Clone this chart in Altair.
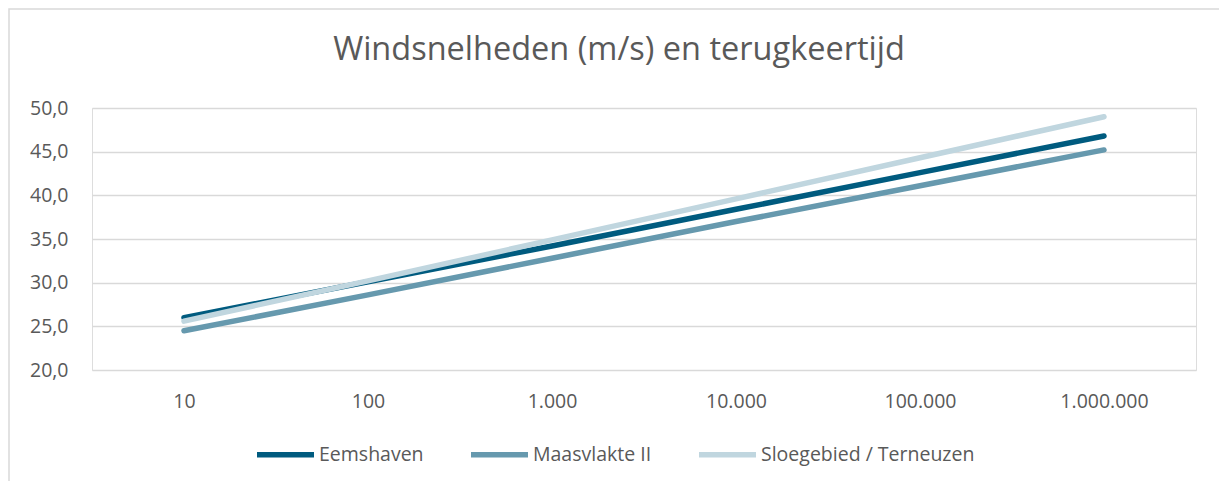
import altair as alt
import pandas as pd

categories = ["10", "100", "1.000", "10.000", "100.000", "1.000.000"]
eemshaven = [26.0, 30.1, 34.2, 38.4, 42.6, 46.8]
maasvlakte = [24.5, 28.6, 32.8, 37.0, 41.1, 45.2]
sloegebied = [25.6, 30.2, 34.9, 39.6, 44.3, 49.0]
series_names = ["Eemshaven", "Maasvlakte II", "Sloegebied / Terneuzen"]
series_colors = ["#005B7F", "#6699AE", "#C0D6DF"]

rows = []
for name, vals in zip(series_names, [eemshaven, maasvlakte, sloegebied]):
    for i, (c, v) in enumerate(zip(categories, vals)):
        rows.append({"terugkeertijd": c, "snelheid": v, "locatie": name, "ord": i})
df = pd.DataFrame(rows)

FONT = "Open Sans"
GREY = "#595959"
FS = 19.5

lines = alt.Chart(df).mark_line(strokeWidth=5.5, strokeCap="round", strokeJoin="round").encode(
    x=alt.X("terugkeertijd:N", sort=categories, title=None,
            scale=alt.Scale(type="point", padding=0.5),
            axis=alt.Axis(labelAngle=0, labelFontSize=FS, labelColor=GREY, labelFont=FONT,
                          ticks=False, domain=False, grid=False, labelPadding=22)),
    y=alt.Y("snelheid:Q", title=None,
            scale=alt.Scale(domain=[20, 50], nice=False, zero=False),
            axis=alt.Axis(values=[20, 25, 30, 35, 40, 45, 50], ticks=False, domain=False,
                          labelExpr="replace(format(datum.value, '.1f'), '.', ',')",
                          labelFontSize=FS, labelColor=GREY, labelFont=FONT, labelPadding=24,
                          gridColor="#D9D9D9", gridWidth=1.4)),
    color=alt.Color("locatie:N", sort=series_names,
                    scale=alt.Scale(domain=series_names, range=series_colors),
                    legend=alt.Legend(title=None, orient="none", direction="horizontal",
                                      legendX=162, legendY=315, padding=0,
                                      symbolType="stroke", symbolSize=3249, symbolStrokeWidth=5.5,
                                      labelFontSize=FS, labelColor=GREY, labelFont=FONT,
                                      labelOffset=2, columnPadding=36, labelLimit=500)),
    order=alt.Order("ord:Q"),
)

border = alt.Chart(pd.DataFrame({"a": [0]})).mark_rect(
    fill=None, stroke="#D9D9D9", strokeWidth=1.5
).encode(
    x=alt.value(-83), x2=alt.value(1132), y=alt.value(-99), y2=alt.value(392)
)

chart = alt.layer(border, lines).properties(
    width=1104, height=262,
    padding={"left": 84, "top": 100, "right": 23, "bottom": 111},
    autosize=alt.AutoSizeParams(type="none"),
    title=alt.TitleParams("Windsnelheden (m/s) en terugkeertijd", fontSize=32.5, font=FONT,
                          color=GREY, fontWeight="normal", anchor="middle", frame="group",
                          baseline="alphabetic", dx=-25, offset=-84),
).configure_view(stroke=None).configure(background="white")

chart.save("out.html", embed_options={"renderer": "svg", "actions": False})
